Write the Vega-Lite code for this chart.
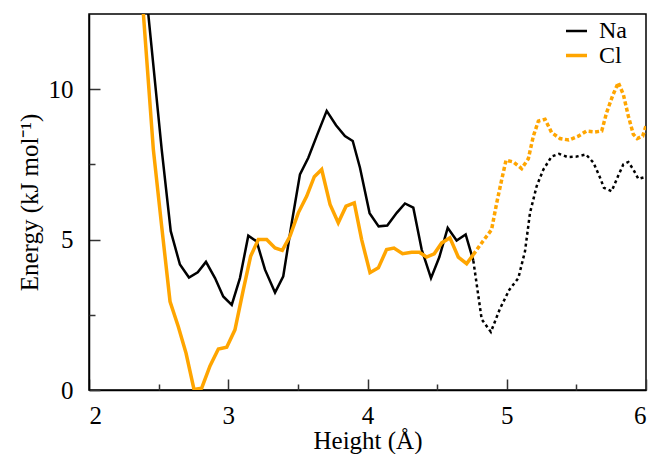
{
  "$schema": "https://vega.github.io/schema/vega-lite/v6.json",
  "width": 557,
  "height": 376,
  "autosize": {"type": "none"},
  "padding": {"left": 89, "top": 14, "right": 11, "bottom": 64},
  "background": "white",
  "datasets": {
    "curves": [
      {"ion":"Na","segment":1,"h":2.40,"e":13.7},
      {"ion":"Na","segment":1,"h":2.522,"e":8.0},
      {"ion":"Na","segment":1,"h":2.587,"e":5.28},
      {"ion":"Na","segment":1,"h":2.653,"e":4.17},
      {"ion":"Na","segment":1,"h":2.718,"e":3.74},
      {"ion":"Na","segment":1,"h":2.781,"e":3.91},
      {"ion":"Na","segment":1,"h":2.840,"e":4.26},
      {"ion":"Na","segment":1,"h":2.905,"e":3.72},
      {"ion":"Na","segment":1,"h":2.964,"e":3.11},
      {"ion":"Na","segment":1,"h":3.025,"e":2.83},
      {"ion":"Na","segment":1,"h":3.084,"e":3.72},
      {"ion":"Na","segment":1,"h":3.144,"e":5.13},
      {"ion":"Na","segment":1,"h":3.204,"e":4.94},
      {"ion":"Na","segment":1,"h":3.264,"e":4.0},
      {"ion":"Na","segment":1,"h":3.336,"e":3.24},
      {"ion":"Na","segment":1,"h":3.395,"e":3.78},
      {"ion":"Na","segment":1,"h":3.456,"e":5.56},
      {"ion":"Na","segment":1,"h":3.515,"e":7.17},
      {"ion":"Na","segment":1,"h":3.575,"e":7.72},
      {"ion":"Na","segment":1,"h":3.635,"e":8.44},
      {"ion":"Na","segment":1,"h":3.707,"e":9.28},
      {"ion":"Na","segment":1,"h":3.774,"e":8.8},
      {"ion":"Na","segment":1,"h":3.838,"e":8.44},
      {"ion":"Na","segment":1,"h":3.894,"e":8.28},
      {"ion":"Na","segment":1,"h":3.946,"e":7.39},
      {"ion":"Na","segment":1,"h":4.015,"e":5.88},
      {"ion":"Na","segment":1,"h":4.080,"e":5.44},
      {"ion":"Na","segment":1,"h":4.142,"e":5.47},
      {"ion":"Na","segment":1,"h":4.210,"e":5.89},
      {"ion":"Na","segment":1,"h":4.269,"e":6.2},
      {"ion":"Na","segment":1,"h":4.329,"e":6.06},
      {"ion":"Na","segment":1,"h":4.389,"e":4.67},
      {"ion":"Na","segment":1,"h":4.456,"e":3.72},
      {"ion":"Na","segment":1,"h":4.516,"e":4.42},
      {"ion":"Na","segment":1,"h":4.576,"e":5.39},
      {"ion":"Na","segment":1,"h":4.640,"e":4.97},
      {"ion":"Na","segment":1,"h":4.705,"e":5.17},
      {"ion":"Na","segment":1,"h":4.760,"e":4.3},
      {"ion":"Na","segment":2,"h":4.760,"e":4.3},
      {"ion":"Na","segment":2,"h":4.820,"e":2.35},
      {"ion":"Na","segment":2,"h":4.886,"e":1.93},
      {"ion":"Na","segment":2,"h":4.951,"e":2.7},
      {"ion":"Na","segment":2,"h":5.018,"e":3.33},
      {"ion":"Na","segment":2,"h":5.083,"e":3.72},
      {"ion":"Na","segment":2,"h":5.131,"e":4.61},
      {"ion":"Na","segment":2,"h":5.167,"e":5.89},
      {"ion":"Na","segment":2,"h":5.215,"e":6.78},
      {"ion":"Na","segment":2,"h":5.263,"e":7.33},
      {"ion":"Na","segment":2,"h":5.322,"e":7.76},
      {"ion":"Na","segment":2,"h":5.375,"e":7.85},
      {"ion":"Na","segment":2,"h":5.440,"e":7.74},
      {"ion":"Na","segment":2,"h":5.502,"e":7.76},
      {"ion":"Na","segment":2,"h":5.569,"e":7.83},
      {"ion":"Na","segment":2,"h":5.622,"e":7.56},
      {"ion":"Na","segment":2,"h":5.670,"e":7.06},
      {"ion":"Na","segment":2,"h":5.698,"e":6.72},
      {"ion":"Na","segment":2,"h":5.753,"e":6.61},
      {"ion":"Na","segment":2,"h":5.801,"e":7.13},
      {"ion":"Na","segment":2,"h":5.837,"e":7.5},
      {"ion":"Na","segment":2,"h":5.873,"e":7.58},
      {"ion":"Na","segment":2,"h":5.909,"e":7.33},
      {"ion":"Na","segment":2,"h":5.945,"e":7.02},
      {"ion":"Na","segment":2,"h":6.0,"e":7.09},
      {"ion":"Cl","segment":1,"h":2.37,"e":13.8},
      {"ion":"Cl","segment":1,"h":2.462,"e":8.0},
      {"ion":"Cl","segment":1,"h":2.522,"e":5.44},
      {"ion":"Cl","segment":1,"h":2.582,"e":2.94},
      {"ion":"Cl","segment":1,"h":2.641,"e":2.11},
      {"ion":"Cl","segment":1,"h":2.697,"e":1.22},
      {"ion":"Cl","segment":1,"h":2.754,"e":0.02},
      {"ion":"Cl","segment":1,"h":2.809,"e":0.06},
      {"ion":"Cl","segment":1,"h":2.869,"e":0.8},
      {"ion":"Cl","segment":1,"h":2.929,"e":1.36},
      {"ion":"Cl","segment":1,"h":2.989,"e":1.42},
      {"ion":"Cl","segment":1,"h":3.048,"e":2.0},
      {"ion":"Cl","segment":1,"h":3.108,"e":3.33},
      {"ion":"Cl","segment":1,"h":3.161,"e":4.45},
      {"ion":"Cl","segment":1,"h":3.216,"e":5.0},
      {"ion":"Cl","segment":1,"h":3.276,"e":5.0},
      {"ion":"Cl","segment":1,"h":3.336,"e":4.72},
      {"ion":"Cl","segment":1,"h":3.388,"e":4.64},
      {"ion":"Cl","segment":1,"h":3.443,"e":5.11},
      {"ion":"Cl","segment":1,"h":3.503,"e":5.89},
      {"ion":"Cl","segment":1,"h":3.563,"e":6.44},
      {"ion":"Cl","segment":1,"h":3.618,"e":7.09},
      {"ion":"Cl","segment":1,"h":3.671,"e":7.33},
      {"ion":"Cl","segment":1,"h":3.731,"e":6.17},
      {"ion":"Cl","segment":1,"h":3.790,"e":5.56},
      {"ion":"Cl","segment":1,"h":3.846,"e":6.11},
      {"ion":"Cl","segment":1,"h":3.905,"e":6.22},
      {"ion":"Cl","segment":1,"h":3.958,"e":5.0},
      {"ion":"Cl","segment":1,"h":4.018,"e":3.9},
      {"ion":"Cl","segment":1,"h":4.078,"e":4.06},
      {"ion":"Cl","segment":1,"h":4.137,"e":4.67},
      {"ion":"Cl","segment":1,"h":4.190,"e":4.72},
      {"ion":"Cl","segment":1,"h":4.252,"e":4.53},
      {"ion":"Cl","segment":1,"h":4.317,"e":4.58},
      {"ion":"Cl","segment":1,"h":4.372,"e":4.58},
      {"ion":"Cl","segment":1,"h":4.424,"e":4.42},
      {"ion":"Cl","segment":1,"h":4.479,"e":4.53},
      {"ion":"Cl","segment":1,"h":4.533,"e":4.89},
      {"ion":"Cl","segment":1,"h":4.592,"e":5.06},
      {"ion":"Cl","segment":1,"h":4.652,"e":4.42},
      {"ion":"Cl","segment":1,"h":4.712,"e":4.2},
      {"ion":"Cl","segment":1,"h":4.760,"e":4.5},
      {"ion":"Cl","segment":2,"h":4.760,"e":4.5},
      {"ion":"Cl","segment":2,"h":4.820,"e":4.89},
      {"ion":"Cl","segment":2,"h":4.891,"e":5.33},
      {"ion":"Cl","segment":2,"h":4.928,"e":6.22},
      {"ion":"Cl","segment":2,"h":4.964,"e":7.0},
      {"ion":"Cl","segment":2,"h":4.995,"e":7.64},
      {"ion":"Cl","segment":2,"h":5.047,"e":7.58},
      {"ion":"Cl","segment":2,"h":5.107,"e":7.36},
      {"ion":"Cl","segment":2,"h":5.155,"e":7.69},
      {"ion":"Cl","segment":2,"h":5.191,"e":8.44},
      {"ion":"Cl","segment":2,"h":5.227,"e":8.94},
      {"ion":"Cl","segment":2,"h":5.275,"e":9.0},
      {"ion":"Cl","segment":2,"h":5.322,"e":8.56},
      {"ion":"Cl","segment":2,"h":5.382,"e":8.36},
      {"ion":"Cl","segment":2,"h":5.445,"e":8.31},
      {"ion":"Cl","segment":2,"h":5.514,"e":8.44},
      {"ion":"Cl","segment":2,"h":5.573,"e":8.61},
      {"ion":"Cl","segment":2,"h":5.634,"e":8.58},
      {"ion":"Cl","segment":2,"h":5.682,"e":8.61},
      {"ion":"Cl","segment":2,"h":5.717,"e":9.22},
      {"ion":"Cl","segment":2,"h":5.760,"e":9.78},
      {"ion":"Cl","segment":2,"h":5.801,"e":10.22},
      {"ion":"Cl","segment":2,"h":5.837,"e":9.83},
      {"ion":"Cl","segment":2,"h":5.873,"e":9.11},
      {"ion":"Cl","segment":2,"h":5.909,"e":8.5},
      {"ion":"Cl","segment":2,"h":5.937,"e":8.36},
      {"ion":"Cl","segment":2,"h":5.976,"e":8.44},
      {"ion":"Cl","segment":2,"h":6.0,"e":8.78}
    ]
  },
  "data": {"name": "curves"},
  "layer": [
    {
      "transform": [{"filter": "datum.segment == 1"}],
      "mark": {"type": "line", "clip": true},
      "encoding": {
        "x": {"field": "h", "type": "quantitative",
              "scale": {"domain": [2, 6], "nice": false, "zero": false},
              "axis": {"orient": "bottom", "values": [2, 3, 4, 5, 6], "tickSize": -11, "title": "Height (Å)", "format": "d", "labelPadding": 24, "titlePadding": 0}},
        "y": {"field": "e", "type": "quantitative",
              "scale": {"domain": [0, 12.5], "nice": false},
              "axis": {"orient": "left", "values": [0, 5, 10], "tickSize": -11, "title": "Energy (kJ mol⁻¹)", "format": "d", "labelPadding": 27, "titlePadding": 6}},
        "color": {"field": "ion", "type": "nominal",
                  "scale": {"domain": ["Na", "Cl"], "range": ["#000000", "#FFA500"]},
                  "legend": {"orient": "none", "legendX": 475, "legendY": 5, "title": null,
                             "symbolType": "stroke", "symbolSize": 441, "symbolStrokeWidth": 3,
                             "labelFont": "Liberation Serif", "labelFontSize": 24, "labelColor": "black",
                             "labelOffset": 10, "padding": 0, "rowPadding": -2}},
        "strokeWidth": {"field": "ion", "type": "nominal",
                        "scale": {"domain": ["Na", "Cl"], "range": [2.5, 3.5]}, "legend": null},
        "order": {"field": "h", "type": "quantitative"}
      }
    },
    {
      "transform": [{"filter": "datum.segment == 2 && datum.ion == 'Na'"}],
      "mark": {"type": "line", "clip": true, "strokeWidth": 2.5, "strokeDash": [3, 3]},
      "encoding": {
        "x": {"field": "h", "type": "quantitative",
              "axis": {"orient": "bottom", "values": [2.5, 3.5, 4.5, 5.5], "tickSize": -6, "labels": false, "domain": false, "title": null}},
        "y": {"field": "e", "type": "quantitative",
              "axis": {"orient": "left", "values": [2.5, 7.5], "tickSize": -6, "labels": false, "domain": false, "title": null}},
        "color": {"field": "ion", "type": "nominal", "legend": null},
        "order": {"field": "h", "type": "quantitative"}
      }
    },
    {
      "transform": [{"filter": "datum.segment == 2 && datum.ion == 'Cl'"}],
      "mark": {"type": "line", "clip": true, "strokeWidth": 3.5, "strokeDash": [4, 2.5]},
      "encoding": {
        "x": {"field": "h", "type": "quantitative", "axis": null},
        "y": {"field": "e", "type": "quantitative", "axis": null},
        "color": {"field": "ion", "type": "nominal", "legend": null},
        "order": {"field": "h", "type": "quantitative"}
      }
    }
  ],
  "resolve": {"axis": {"x": "independent", "y": "independent"}},
  "config": {
    "view": {"stroke": "#000000", "strokeWidth": 1.5},
    "axis": {
      "grid": false,
      "domainColor": "#000000", "domainWidth": 1.5,
      "tickColor": "#333333", "tickWidth": 1.5,
      "labelFont": "Liberation Serif", "labelFontSize": 25, "labelColor": "#000000",
      "titleFont": "Liberation Serif", "titleFontSize": 25, "titleFontWeight": "normal", "titleColor": "#000000"
    }
  }
}
